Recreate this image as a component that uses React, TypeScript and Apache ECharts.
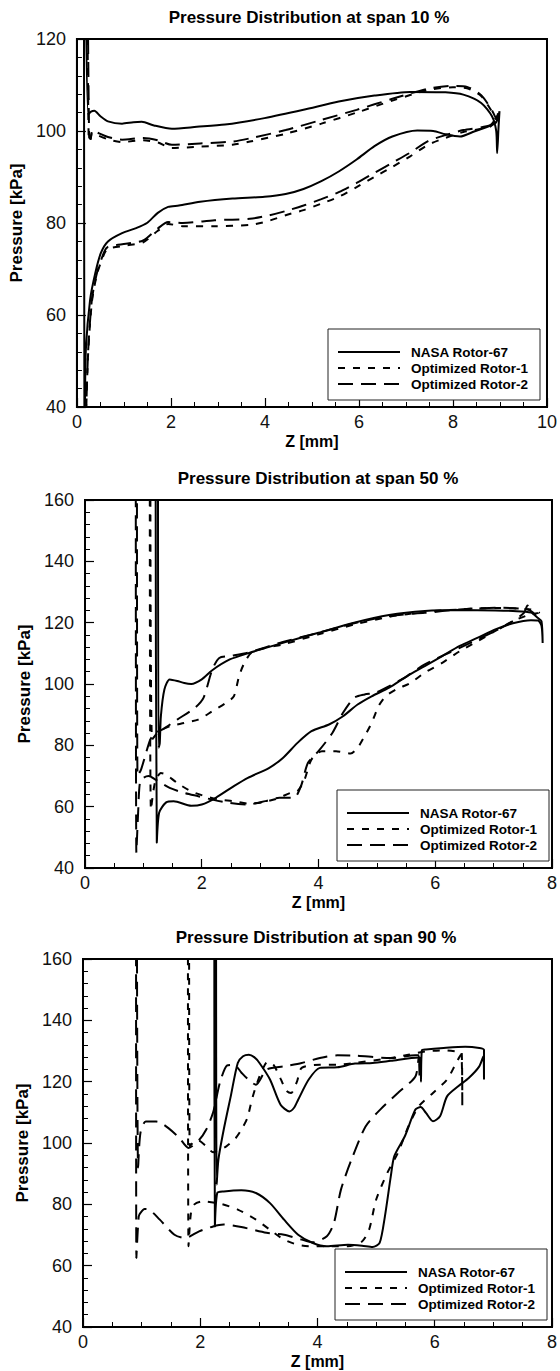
import React, { useEffect, useRef } from "react";
import * as echarts from "echarts";

type Pt = [number, number];

// ---------- Span 10 % ----------
const span10Nasa: Pt[] = [
  [0.19, 130], [0.24, 103.6], [0.3, 104.2], [0.37, 104.4], [0.5, 103.2], [0.66, 102.1], [0.96, 101.6],
  [1.2, 101.9], [1.38, 102.0], [1.64, 101.2], [2.02, 100.5], [2.55, 100.9], [3.15, 101.4], [3.99, 102.8],
  [4.82, 104.6], [5.57, 106.4], [6.33, 107.7], [7.09, 108.5], [7.84, 108.4], [8.22, 107.9], [8.6, 106.1],
  [8.83, 103.2], [8.92, 100], [8.94, 95.2], [8.97, 101], [8.99, 104.3], [8.9, 101.7], [8.45, 99.9],
  [8.15, 98.8], [7.84, 99.3], [7.58, 100], [7.24, 100.1], [6.71, 98.8], [6.33, 96.7], [5.95, 93.8],
  [5.57, 91.2], [5.2, 89.1], [4.82, 87.4], [4.44, 86.3], [3.99, 85.7], [3.31, 85.3], [2.62, 84.6],
  [2.17, 83.8], [1.94, 83.5], [1.72, 82.2], [1.49, 80], [1.26, 78.9], [0.96, 77.8], [0.66, 76],
  [0.51, 73.5], [0.39, 69.1], [0.28, 63.3], [0.19, 52.5], [0.17, 40], [0.16, 30], [0.15, 130],
];
const span10Opt1: Pt[] = [
  [0.22, 130], [0.25, 98.2], [0.28, 97.8], [0.32, 99.6], [0.39, 99.3], [0.66, 98.2], [0.96, 97.6],
  [1.41, 98.0], [1.72, 97.5], [2.02, 96.3], [2.62, 96.6], [3.31, 97.0], [3.68, 97.7], [4.44, 99.4],
  [5.2, 101.6], [5.95, 104.0], [6.71, 106.6], [7.47, 108.9], [8.0, 109.5], [8.3, 109.3], [8.6, 107.6],
  [8.83, 104.2], [8.92, 102.5], [8.95, 103.5], [8.8, 101.0], [8.22, 99.8], [7.84, 98.5], [7.47, 97.0],
  [7.09, 94.5], [6.71, 92.2], [6.33, 90.0], [5.95, 87.8], [5.57, 85.7], [5.2, 84.2], [4.82, 82.8],
  [4.44, 81.7], [4.06, 80.4], [3.68, 79.6], [2.93, 79.3], [2.25, 79.3], [1.94, 79.8], [1.72, 78.3],
  [1.41, 75.8], [1.04, 75.1], [0.66, 74.4], [0.58, 73.3], [0.43, 69.0], [0.32, 63.0], [0.24, 52.0],
  [0.2, 40], [0.19, 30],
];
const span10Opt2: Pt[] = [
  [0.23, 130], [0.26, 98.6], [0.29, 98.3], [0.33, 100.1], [0.4, 99.8], [0.66, 98.7], [0.96, 98.1],
  [1.41, 98.5], [1.72, 98.0], [2.02, 97.0], [2.62, 97.3], [3.31, 97.7], [3.68, 98.4], [4.44, 100.2],
  [5.2, 102.4], [5.95, 104.6], [6.71, 107.0], [7.47, 109.2], [8.0, 109.8], [8.3, 109.6], [8.6, 107.8],
  [8.83, 104.5], [8.92, 102.8], [8.96, 103.8], [8.8, 101.3], [8.22, 100.2], [7.84, 99.1], [7.47, 97.8],
  [7.09, 95.3], [6.71, 93.1], [6.33, 90.9], [5.95, 88.7], [5.57, 86.7], [5.2, 85.2], [4.82, 83.8],
  [4.44, 82.6], [4.06, 81.6], [3.68, 80.9], [2.93, 80.6], [2.25, 80.0], [1.94, 80.2], [1.72, 78.8],
  [1.41, 76.2], [1.04, 75.5], [0.66, 74.8], [0.58, 73.7], [0.43, 69.3], [0.32, 63.5], [0.24, 52.5],
  [0.2, 40], [0.19, 30],
];

// ---------- Span 50 % ----------
const span50Nasa: Pt[] = [
  [1.25, 170], [1.26, 79.2], [1.28, 80.5], [1.3, 89.5], [1.36, 98.2], [1.45, 101.5], [1.58, 101],
  [1.7, 100.3], [1.82, 100], [2.0, 101.5], [2.18, 104.5], [2.48, 108], [2.79, 110], [3.39, 113.4],
  [4.0, 116.7], [4.61, 120], [5.21, 122.5], [5.82, 123.8], [6.42, 124.1], [7.03, 124], [7.33, 123.8],
  [7.64, 123.3], [7.76, 121.5], [7.82, 120.5], [7.84, 113.4], [7.82, 119], [7.76, 120.7], [7.64, 120.8],
  [7.33, 119.8], [7.03, 117.8], [6.73, 115.1], [6.42, 112.4], [6.12, 109.1], [5.82, 105.8], [5.52, 102.6],
  [5.21, 98.8], [4.91, 96], [4.67, 93.3], [4.42, 89.5], [4.18, 86.8], [3.88, 84.6], [3.64, 80.8],
  [3.39, 75.9], [3.15, 72.6], [2.79, 69.4], [2.55, 66.7], [2.24, 62.9], [2.0, 60.7], [1.82, 60.3],
  [1.52, 61.8], [1.39, 61.4], [1.27, 58], [1.23, 48.2], [1.21, 170],
];
const span50Opt1: Pt[] = [
  [1.11, 170], [1.13, 59], [1.2, 68], [1.3, 71], [1.39, 70.5], [1.58, 67.7], [1.82, 65], [2.06, 63.4],
  [2.3, 62.3], [2.55, 61.8], [2.79, 61], [3.03, 61.4], [3.27, 62.5], [3.52, 64.5], [3.64, 65], [3.76, 68.8],
  [3.88, 75.4], [4.06, 78.1], [4.3, 78.1], [4.55, 77.3], [4.67, 79.2], [4.79, 83], [4.91, 87.3], [5.03, 92.8],
  [5.15, 96], [5.33, 98.2], [5.58, 100.4], [5.82, 103.7], [6.12, 106.9], [6.42, 110.7], [6.73, 114],
  [7.03, 117.3], [7.33, 120.5], [7.58, 122.4], [7.78, 123.3], [7.64, 124.3], [7.03, 124.8], [6.42, 124.3],
  [5.82, 123.5], [5.21, 121.9], [4.61, 119.4], [4.0, 116.2], [3.39, 112.9], [3.09, 111.8], [2.85, 110.2],
  [2.73, 106.9], [2.64, 102.6], [2.55, 96], [2.42, 93.9], [2.18, 91.1], [1.94, 88.4], [1.7, 87.3],
  [1.45, 86.2], [1.27, 84.6], [1.15, 81.9], [1.12, 170],
];
const span50Opt2: Pt[] = [
  [0.87, 170], [0.88, 45], [0.91, 58], [0.94, 67.7], [1.0, 69.4], [1.09, 70], [1.21, 68.8], [1.45, 66.1],
  [1.7, 64.5], [1.94, 63.4], [2.18, 62.3], [2.48, 61.2], [2.79, 60.7], [3.09, 61.8], [3.33, 62.9],
  [3.58, 62.9], [3.7, 66.7], [3.82, 74.3], [4.0, 78.1], [4.24, 84.1], [4.42, 90.6], [4.61, 95.5],
  [4.79, 96.6], [4.97, 97.1], [5.21, 99.3], [5.52, 102.6], [5.82, 106.4], [6.42, 111.8], [7.03, 117.3],
  [7.33, 120.5], [7.52, 123.2], [7.58, 125.6], [7.64, 123.5], [7.72, 122.5], [7.6, 124.2], [7.45, 124.6],
  [7.03, 124.9], [6.42, 124.3], [5.82, 123.2], [5.21, 122.2], [4.61, 119.8], [4.0, 116.7], [3.39, 113.7],
  [2.79, 110.2], [2.48, 109.1], [2.3, 108.5], [2.18, 104.7], [2.03, 95.5], [1.88, 92.2], [1.58, 88.4],
  [1.33, 85.2], [1.21, 84.1], [1.12, 81.9], [1.03, 76.5], [0.96, 72.1], [0.9, 70], [0.89, 170],
];

// ---------- Span 90 % ----------
const span90Nasa: Pt[] = [
  [2.27, 170], [2.28, 86.4], [2.31, 94.6], [2.4, 104.3], [2.52, 115.2], [2.64, 126.1], [2.73, 128.3],
  [2.83, 128.8], [2.92, 128], [3.01, 126.1], [3.19, 120.7], [3.37, 112.5], [3.52, 110.3], [3.6, 111.5],
  [3.67, 114.1], [3.85, 120.7], [4.04, 124.5], [4.34, 124.7], [4.64, 125.9], [4.94, 126.1], [5.25, 126.8],
  [5.73, 127.9], [5.76, 127.5], [5.765, 120], [5.78, 130.2], [5.85, 130.5], [6.15, 131], [6.52, 131.4],
  [6.76, 131], [6.84, 130.4], [6.84, 120.7], [6.83, 128.3], [6.76, 125], [6.58, 121.2], [6.4, 118.5],
  [6.21, 115.2], [6.09, 108.7], [5.97, 107.1], [5.85, 109.8], [5.76, 111.7], [5.67, 110.9], [5.49, 102.2],
  [5.31, 95.7], [5.25, 89.1], [5.15, 76.1], [5.06, 67.4], [4.94, 66.1], [4.76, 66.5], [4.52, 66.8],
  [4.16, 66.3], [3.92, 67.4], [3.67, 70.1], [3.43, 75], [3.19, 80.4], [2.95, 83.7], [2.7, 84.6],
  [2.4, 84.2], [2.29, 83.7], [2.25, 72.8], [2.24, 170],
];
const span90Opt1: Pt[] = [
  [1.79, 170], [1.8, 66.3], [1.84, 77], [1.9, 80], [2.04, 81], [2.34, 80.2], [2.64, 78.3], [2.95, 75],
  [3.19, 71.7], [3.43, 68.5], [3.67, 66.8], [3.92, 66.3], [4.16, 66.3], [4.52, 66.3], [4.76, 67.9],
  [4.88, 71.7], [5.0, 81.5], [5.19, 90.2], [5.37, 96.7], [5.55, 105.4], [5.73, 112], [5.97, 116.3],
  [6.21, 120.7], [6.35, 125.5], [6.45, 129], [6.47, 112], [6.46, 129.5], [6.34, 129.9], [6.15, 130.2],
  [5.85, 129.9], [5.55, 128.8], [5.25, 127.7], [4.64, 126.1], [4.34, 125.5], [4.04, 125.5], [3.73, 124.5],
  [3.65, 120], [3.55, 116.3], [3.47, 117], [3.37, 121], [3.25, 125.5], [3.15, 126.5], [3.05, 123.5],
  [2.95, 118.5], [2.88, 114], [2.8, 108], [2.7, 104.3], [2.6, 101.5], [2.45, 99], [2.3, 97.5],
  [2.22, 97], [2.1, 99], [1.95, 101], [1.82, 99], [1.81, 170],
];
const span90Opt2: Pt[] = [
  [0.905, 170], [0.91, 62.5], [0.95, 76], [0.98, 77.2], [1.05, 78.5], [1.13, 78.3], [1.31, 75],
  [1.56, 70.1], [1.74, 69], [1.98, 71.2], [2.22, 72.8], [2.4, 73.4], [2.7, 72.6], [3.13, 70.7],
  [3.43, 70.1], [3.73, 68.5], [3.92, 67.6], [4.16, 69.6], [4.28, 73.9], [4.4, 84.8], [4.58, 94.6],
  [4.82, 105.4], [5.07, 110.9], [5.37, 116.3], [5.67, 121.7], [5.73, 128.3], [5.74, 122], [5.72, 128.6],
  [5.67, 128.6], [5.25, 127.7], [4.64, 128.5], [4.34, 128.6], [4.04, 127.7], [3.73, 126.1], [3.43, 125],
  [3.13, 123.9], [2.95, 119], [2.83, 120.5], [2.7, 123], [2.58, 125.5], [2.46, 125.3], [2.34, 120],
  [2.22, 110], [2.1, 104.3], [1.98, 101], [1.8, 98.4], [1.62, 102.2], [1.25, 107], [1.07, 107],
  [0.98, 103.3], [0.94, 92], [0.92, 170],
];

const titles = [
  "Pressure Distribution at span 10 %",
  "Pressure Distribution at span 50 %",
  "Pressure Distribution at span 90 %",
];
const seriesNames = ["NASA Rotor-67", "Optimized Rotor-1", "Optimized Rotor-2"];
const xMaxes = [10, 8, 8];
const yMins = [40, 40, 40];
const yMaxes = [120, 160, 160];
const chartData: Pt[][][] = [
  [span10Nasa, span10Opt1, span10Opt2],
  [span50Nasa, span50Opt1, span50Opt2],
  [span90Nasa, span90Opt1, span90Opt2],
];

const FONT = "'Liberation Sans', Arial, Helvetica, sans-serif";
const GRID_POS = [
  { left: 76, top: 39 },
  { left: 85, top: 500 },
  { left: 83, top: 959 },
];
const GW = 472;
const GH = 368;
const DASHES: any[] = ["solid", [7, 8], [15, 8]];

export default function App() {
  const ref = useRef<HTMLDivElement>(null);
  useEffect(() => {
    if (!ref.current) return;
    const chart = echarts.init(ref.current, undefined, { renderer: "svg" });

    const grid = GRID_POS.map((g) => ({
      left: g.left,
      top: g.top,
      width: GW,
      height: GH,
      show: true,
      borderColor: "#000",
      borderWidth: 2,
      backgroundColor: "transparent",
    }));

    const xAxis = GRID_POS.map((_, i) => ({
      type: "value",
      gridIndex: i,
      min: 0,
      max: xMaxes[i],
      interval: 2,
      name: "Z [mm]",
      nameLocation: "middle",
      nameGap: 26,
      nameTextStyle: { fontSize: 16, fontWeight: "bold", fontFamily: FONT, color: "#000" },
      axisLine: { show: true, onZero: false, lineStyle: { color: "#000", width: 2 } },
      axisTick: { show: true, inside: true, length: 9, lineStyle: { color: "#000", width: 1.2 } },
      minorTick: { show: true, splitNumber: 4, length: 5, lineStyle: { color: "#000", width: 1 } },
      splitLine: { show: false },
      minorSplitLine: { show: false },
      axisLabel: { fontSize: 18, fontFamily: FONT, color: "#111", margin: 6 },
    }));

    const yAxis = GRID_POS.map((_, i) => ({
      type: "value",
      gridIndex: i,
      min: yMins[i],
      max: yMaxes[i],
      interval: 20,
      name: "Pressure [kPa]",
      nameLocation: "middle",
      nameRotate: 90,
      nameGap: 46,
      nameTextStyle: { fontSize: 17, fontWeight: "bold", fontFamily: FONT, color: "#000" },
      axisLine: { show: true, onZero: false, lineStyle: { color: "#000", width: 2 } },
      axisTick: { show: true, inside: true, length: 9, lineStyle: { color: "#000", width: 1.2 } },
      minorTick: { show: true, splitNumber: 5, length: 5, lineStyle: { color: "#000", width: 1 } },
      splitLine: { show: false },
      minorSplitLine: { show: false },
      axisLabel: { fontSize: 18, fontFamily: FONT, color: "#111", margin: 11 },
    }));

    const series: any[] = [];
    chartData.forEach((group, gi) => {
      group.forEach((pts, si) => {
        series.push({
          type: "line",
          name: seriesNames[si],
          xAxisIndex: gi,
          yAxisIndex: gi,
          data: pts,
          showSymbol: false,
          symbol: "none",
          smooth: 0.25,
          clip: true,
          lineStyle: { color: "#000", width: 2, type: DASHES[si] },
          z: 3 - si,
        });
      });
    });

    const graphic: any[] = [];
    GRID_POS.forEach((g, gi) => {
      graphic.push({
        type: "text",
        x: g.left + GW / 2 - 3,
        y: g.top - 22,
        z: 100,
        style: {
          text: titles[gi],
          fontSize: 17,
          fontWeight: "bold",
          fontFamily: FONT,
          fill: "#000",
          align: "center",
          verticalAlign: "middle",
        },
      });
      const bx = g.left + GW - 8 - 212;
      const by = g.top + GH - 7 - 71;
      graphic.push({
        type: "rect",
        z: 100,
        shape: { x: bx, y: by, width: 212, height: 71 },
        style: { fill: "#fff", stroke: "#222", lineWidth: 1 },
      });
      seriesNames.forEach((nm, si) => {
        const ry = by + 23 + si * 16;
        graphic.push({
          type: "line",
          z: 101,
          shape: { x1: bx + 10, y1: ry, x2: bx + 72, y2: ry },
          style: {
            stroke: "#000",
            lineWidth: 2,
            lineDash: si === 0 ? null : DASHES[si],
          },
        });
        graphic.push({
          type: "text",
          z: 101,
          x: bx + 83,
          y: ry,
          style: {
            text: nm,
            fontSize: 13.5,
            fontWeight: "bold",
            fontFamily: FONT,
            fill: "#000",
            align: "left",
            verticalAlign: "middle",
          },
        });
      });
    });

    chart.setOption({
      animation: false,
      backgroundColor: "#fff",
      grid,
      xAxis,
      yAxis,
      series,
      graphic,
    });

    return () => chart.dispose();
  }, []);

  return (
    <div
      ref={ref}
      style={{ position: "absolute", left: 0, top: 0, width: 560, height: 1371 }}
    />
  );
}
